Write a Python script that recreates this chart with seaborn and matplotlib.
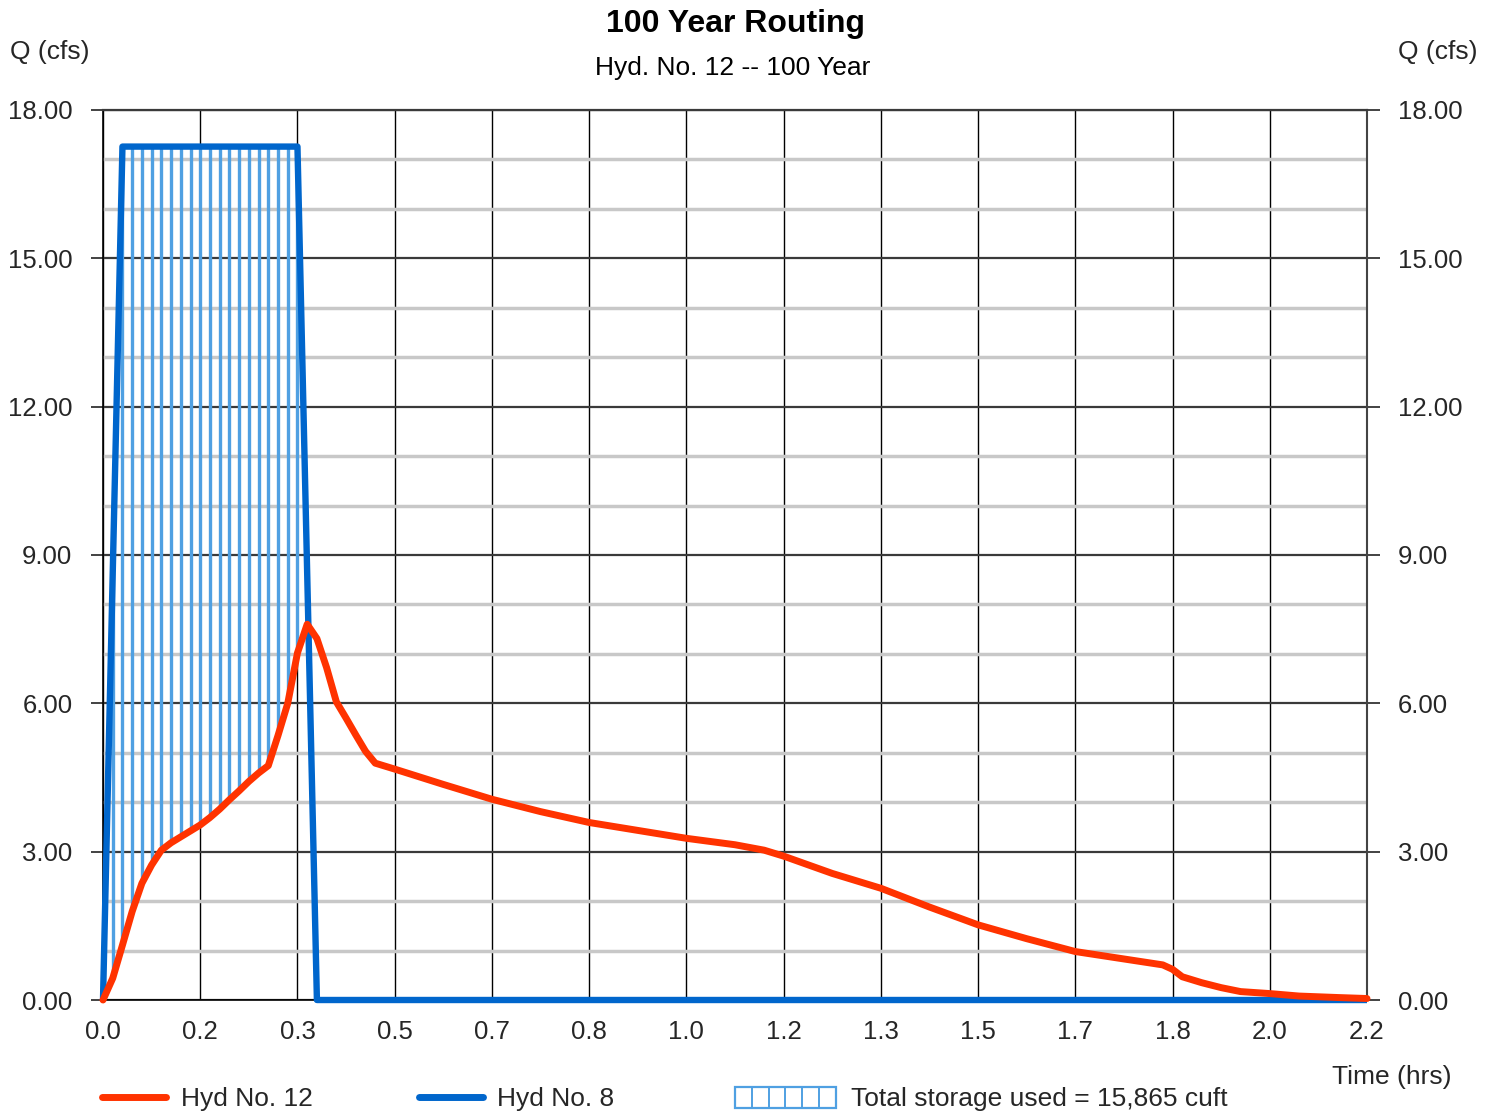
import numpy as np
import pandas as pd
import matplotlib
matplotlib.use("Agg")
import matplotlib.pyplot as plt
from matplotlib.lines import Line2D
from matplotlib.patches import Rectangle
import seaborn as sns

# Outflow hydrograph, Hyd No. 12 (time in minutes, flow in cfs)
out_min = [0, 1, 2, 3, 4, 5, 6, 7, 8, 9, 10, 11, 12, 13, 14, 15, 16, 17, 18, 19,
           20, 21, 22, 23, 24, 25, 26, 27, 28, 29, 30, 35, 40, 45, 50, 55, 60,
           65, 68, 70, 75, 80, 85, 90, 95, 100, 105, 109, 110, 111, 113, 115,
           117, 120, 123, 127, 130]
out_cfs = [0.00, 0.44, 1.11, 1.79, 2.36, 2.73, 3.03, 3.18, 3.30, 3.42, 3.54,
           3.69, 3.86, 4.05, 4.23, 4.42, 4.59, 4.74, 5.35, 6.00, 7.02, 7.60,
           7.31, 6.72, 6.03, 5.70, 5.36, 5.03, 4.79, 4.73, 4.67, 4.36, 4.06,
           3.81, 3.59, 3.43, 3.27, 3.14, 3.03, 2.91, 2.56, 2.26, 1.88, 1.52,
           1.24, 0.98, 0.83, 0.71, 0.62, 0.47, 0.35, 0.25, 0.17, 0.13, 0.08,
           0.05, 0.03]

# Inflow hydrograph, Hyd No. 8
in_min = [0, 2, 20, 22, 130]
in_cfs = [0.00, 17.26, 17.26, 0.00, 0.00]

storage_label = "Total storage used = 15,865 cuft"
x_ticks = [i / 6 for i in range(14)]
y_ticks = [0, 3, 6, 9, 12, 15, 18]

RED = "#ff3300"
BLUE = "#0066cc"
HATCH = "#4fa0e2"

sns.set_theme(style="white")
plt.rcParams["font.family"] = ["Liberation Sans", "DejaVu Sans"]

TICK_FS = 18.5
TEXT_FS = 19

W, H = 1496, 1112
fig = plt.figure(figsize=(W / 100, H / 100), dpi=100)
ax = fig.add_axes([103 / W, 1 - 1000 / H, (1367 - 103) / W, (1000 - 110) / H])


def fx(px):
    return px / W


def fy(py):
    return 1 - py / H


df_out = pd.DataFrame({"hrs": np.array(out_min) / 60.0, "cfs": out_cfs})
df_in = pd.DataFrame({"hrs": np.array(in_min) / 60.0, "cfs": in_cfs})

# storage hatching: one vertical stroke per minute between outflow and inflow
hatch_min = np.arange(1, 22)
tops = np.interp(hatch_min, in_min, in_cfs)
bots = np.interp(hatch_min, out_min, out_cfs)
keep = tops > bots
ax.vlines(hatch_min[keep] / 60.0, bots[keep], tops[keep], color=HATCH,
          lw=2.4, zorder=2)

sns.lineplot(data=df_in, x="hrs", y="cfs", color=BLUE, lw=4.6, ax=ax,
             estimator=None, sort=False, zorder=3, clip_on=False,
             solid_capstyle="butt")
sns.lineplot(data=df_out, x="hrs", y="cfs", color=RED, lw=5, ax=ax,
             estimator=None, sort=False, zorder=4, clip_on=False,
             solid_capstyle="round")

ax.set_xlim(0, 13 / 6)
ax.set_ylim(0, 18)
ax.set_xticks(x_ticks)
ax.set_xticklabels([f"{v:.1f}" for v in x_ticks])
ax.set_yticks(y_ticks)
ax.set_yticklabels([f"{v:.2f}" for v in y_ticks])
ax.set_yticks(np.arange(0, 19, 1), minor=True)
ax.set_xlabel("")
ax.set_ylabel("")

ax.grid(which="minor", axis="y", color="#c8c8c8", lw=2.5, zorder=0)
ax.grid(which="major", axis="y", color="#3a3a3a", lw=1.6, zorder=1)
ax.grid(which="major", axis="x", color="#000000", lw=1.0, zorder=1)
ax.set_axisbelow(True)

ax.tick_params(axis="y", which="major", left=True, right=True, labelleft=True,
               labelright=True, length=9, width=1.2, color="#222222",
               pad=13, labelsize=TICK_FS)
ax.tick_params(axis="y", which="minor", length=0)
ax.tick_params(axis="x", which="major", length=0, pad=14.5, labelsize=TICK_FS)

for side in ["left", "bottom"]:
    ax.spines[side].set_color("#000000")
    ax.spines[side].set_linewidth(1.2)
ax.spines["top"].set_color("#3a3a3a")
ax.spines["top"].set_linewidth(1.6)
ax.spines["right"].set_color("#444444")
ax.spines["right"].set_linewidth(1.5)

# titles and axis captions
fig.text(fx(735), fy(24), "100 Year Routing", ha="center", va="center",
         fontsize=23, fontweight="bold", color="black")
fig.text(fx(733), fy(68), "Hyd. No. 12 -- 100 Year", ha="center", va="center",
         fontsize=TEXT_FS, color="black")
fig.text(fx(10), fy(52), "Q (cfs)", ha="left", va="center", fontsize=TEXT_FS)
fig.text(fx(1478), fy(52), "Q (cfs)", ha="right", va="center", fontsize=TEXT_FS)
fig.text(fx(1452), fy(1077), "Time (hrs)", ha="right", va="center",
         fontsize=TEXT_FS)

# legend row
ly = 1097
fig.add_artist(Line2D([fx(102), fx(166)], [fy(ly), fy(ly)], color=RED, lw=5,
                      solid_capstyle="round", transform=fig.transFigure))
fig.text(fx(181), fy(ly + 2), "Hyd No. 12", ha="left", va="center",
         fontsize=TEXT_FS)
fig.add_artist(Line2D([fx(419), fx(483)], [fy(ly), fy(ly)], color=BLUE, lw=5,
                      solid_capstyle="round", transform=fig.transFigure))
fig.text(fx(497), fy(ly + 2), "Hyd No. 8", ha="left", va="center",
         fontsize=TEXT_FS)

bx0, bx1, by0, by1 = 735, 836, 1087, 1108
fig.add_artist(Rectangle((fx(bx0), fy(by1)), fx(bx1) - fx(bx0),
                         fy(by0) - fy(by1), fill=False, edgecolor=HATCH,
                         lw=1.6, transform=fig.transFigure))
for k in range(1, 6):
    xx = bx0 + k * (bx1 - bx0) / 6
    fig.add_artist(Line2D([fx(xx), fx(xx)], [fy(by0), fy(by1)], color=HATCH,
                          lw=1.4, transform=fig.transFigure))
fig.text(fx(851), fy(ly + 2), storage_label, ha="left", va="center",
         fontsize=TEXT_FS)

fig.savefig("out.png", dpi=100)
